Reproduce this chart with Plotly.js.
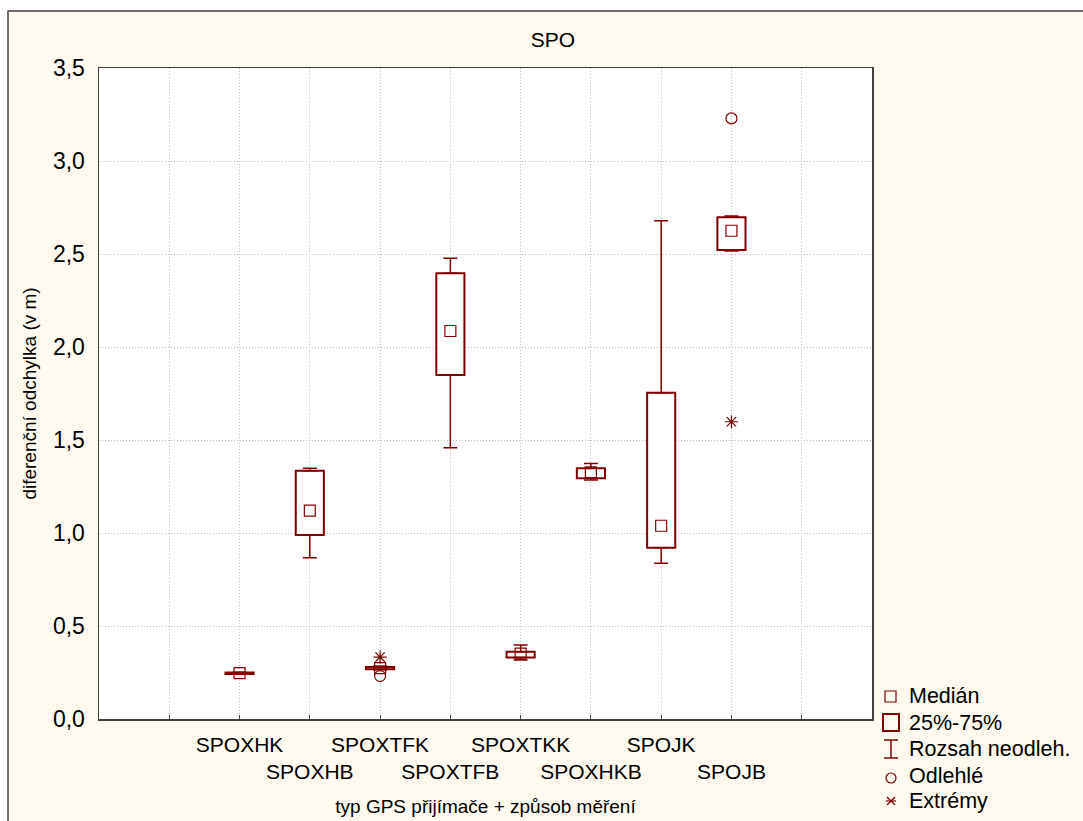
<!DOCTYPE html>
<html>
<head>
<meta charset="utf-8">
<script src="https://cdn.plot.ly/plotly-3.0.1.min.js"></script>
<style>html,body{margin:0;padding:0;background:#fff;}#chart{width:1083px;height:821px;}</style>
</head>
<body>
<div id="chart"></div>
<script>
// ---- data ----
var categories = ['SPOXHK', 'SPOXHB', 'SPOXTFK', 'SPOXTFB', 'SPOXTKK', 'SPOXHKB', 'SPOJK', 'SPOJB'];
var whiskerLow  = [0.240, 0.867, 0.265, 1.459, 0.317, 1.285, 0.837, 2.516];
var q1          = [0.242, 0.989, 0.267, 1.849, 0.330, 1.294, 0.921, 2.521];
var median      = [0.247, 1.120, 0.273, 2.086, 0.352, 1.326, 1.039, 2.625];
var q3          = [0.250, 1.335, 0.280, 2.396, 0.362, 1.348, 1.754, 2.697];
var whiskerHigh = [0.252, 1.348, 0.285, 2.477, 0.398, 1.374, 2.679, 2.704];
var outlierCat = ['SPOXTFK', 'SPOJB'];
var outlierVal = [0.231, 3.229];
var extremeCat = ['SPOXTFK', 'SPOJB'];
var extremeVal = [0.333, 1.598];
var legendLabels = ['Medián', '25%-75%', 'Rozsah neodleh.', 'Odlehlé', 'Extrémy'];
var yTickVals = [0, 0.5, 1, 1.5, 2, 2.5, 3, 3.5];

// ---- derived ----
var RED = '#800000';
var FONT = 'Liberation Sans, Arial, sans-serif';
var xi = categories.map(function (c, i) { return i; });
function idx(c) { return categories.indexOf(c); }
var boxH = q3.map(function (v, i) { return v - q1[i]; });
var upLen = whiskerHigh.map(function (v, i) { return v - q3[i]; });
var lowLen = q1.map(function (v, i) { return v - whiskerLow[i]; });
var zeros = categories.map(function () { return 0; });
var tickText = categories.map(function (c, i) { return i % 2 === 0 ? c : '\u00a0<br>' + c; });

var traces = [
  { type: 'bar', x: xi, base: q1, y: boxH, width: 0.4,
    marker: { color: '#ffffff', line: { color: RED, width: 2 } }, showlegend: false, hoverinfo: 'skip' },
  { type: 'scatter', mode: 'markers', x: xi, y: q3, marker: { size: 1, opacity: 0 },
    error_y: { type: 'data', symmetric: false, array: upLen, arrayminus: zeros, width: 7, thickness: 1.5, color: RED },
    showlegend: false, hoverinfo: 'skip' },
  { type: 'scatter', mode: 'markers', x: xi, y: q1, marker: { size: 1, opacity: 0 },
    error_y: { type: 'data', symmetric: false, array: zeros, arrayminus: lowLen, width: 7, thickness: 1.5, color: RED },
    showlegend: false, hoverinfo: 'skip' },
  { type: 'scatter', mode: 'markers', x: xi, y: median,
    marker: { symbol: 'square-open', size: 11, color: RED, line: { width: 1.2, color: RED } }, showlegend: false },
  { type: 'scatter', mode: 'markers', x: outlierCat.map(idx), y: outlierVal,
    marker: { symbol: 'circle-open', size: 11, color: RED, line: { width: 1.2, color: RED } }, showlegend: false },
  { type: 'scatter', mode: 'markers', x: extremeCat.map(idx), y: extremeVal,
    marker: { symbol: 'asterisk-open', size: 11, color: RED, line: { width: 1.2, color: RED } }, showlegend: false }
];

// pixel -> paper helpers for legend and frame
var L = 99, R = 872, T = 68, B = 719;
function px(x) { return (x - L) / (R - L); }
function py(y) { return (B - y) / (B - T); }

var shapes = [
  { type: 'rect', xref: 'paper', yref: 'paper', x0: px(-5), x1: px(1100), y0: py(11), y1: py(-5), fillcolor: '#ffffff', line: { width: 0 }, layer: 'below' },
  { type: 'rect', xref: 'paper', yref: 'paper', x0: px(-5), x1: px(8), y0: py(830), y1: py(-5), fillcolor: '#ffffff', line: { width: 0 }, layer: 'below' },
  { type: 'rect', xref: 'paper', yref: 'paper', x0: px(8), x1: px(1100), y0: py(11), y1: py(840), line: { color: '#404040', width: 1.5 } },
  { type: 'rect', xref: 'paper', yref: 'paper', x0: px(885), x1: px(896), y0: py(691), y1: py(702), line: { color: RED, width: 1.2 } },
  { type: 'rect', xref: 'paper', yref: 'paper', x0: px(883), x1: px(899), y0: py(714), y1: py(731), line: { color: RED, width: 2 } },
  { type: 'line', xref: 'paper', yref: 'paper', x0: px(891), x1: px(891), y0: py(740), y1: py(758), line: { color: RED, width: 1.5 } },
  { type: 'line', xref: 'paper', yref: 'paper', x0: px(884), x1: px(898), y0: py(740), y1: py(740), line: { color: RED, width: 1.5 } },
  { type: 'line', xref: 'paper', yref: 'paper', x0: px(884), x1: px(898), y0: py(758), y1: py(758), line: { color: RED, width: 1.5 } },
  { type: 'circle', xref: 'paper', yref: 'paper', x0: px(886), x1: px(896), y0: py(773), y1: py(783), line: { color: RED, width: 1.2 } },
  { type: 'line', xref: 'paper', yref: 'paper', x0: px(886), x1: px(896), y0: py(801), y1: py(801), line: { color: RED, width: 1.2 } },
  { type: 'line', xref: 'paper', yref: 'paper', x0: px(887), x1: px(895), y0: py(797), y1: py(805), line: { color: RED, width: 1.2 } },
  { type: 'line', xref: 'paper', yref: 'paper', x0: px(887), x1: px(895), y0: py(805), y1: py(797), line: { color: RED, width: 1.2 } }
];

var legendY = [695.5, 723, 749, 776, 801];
var annotations = legendLabels.map(function (t, i) {
  return { text: t, xref: 'paper', yref: 'paper', x: px(907), y: py(legendY[i]), xanchor: 'left', yanchor: 'middle',
    showarrow: false, font: { family: FONT, size: 21.5, color: '#000' } };
});

var layout = {
  width: 1083, height: 821,
  margin: { l: L, r: 1083 - R, t: T, b: 821 - B, pad: 0 },
  paper_bgcolor: '#fffaef', plot_bgcolor: '#ffffff',
  separators: ', ',
  font: { family: FONT, color: '#000' },
  showlegend: false,
  title: { text: 'SPO', font: { family: FONT, size: 21, color: '#000' },
    x: 553 / 1083, xref: 'container', xanchor: 'center', y: 1 - 40 / 821, yref: 'container', yanchor: 'middle' },
  xaxis: {
    range: [-2, 9], autorange: false,
    tickmode: 'array', tickvals: [-1].concat(xi, [8]), ticktext: [''].concat(tickText, ['']),
    tickangle: 0,
    tickfont: { family: FONT, size: 21, color: '#000' },
    ticks: 'inside', ticklen: 4, tickcolor: '#404040', tickwidth: 1,
    ticklabelstandoff: 6,
    showgrid: true, gridcolor: '#bdbdbd', griddash: '1px,2px', gridwidth: 1,
    showline: true, mirror: true, linecolor: '#404040', linewidth: 1.5, zeroline: false,
    title: { text: 'typ GPS přijímače + způsob měření', font: { family: FONT, size: 19, color: '#000' }, standoff: 17 },
    automargin: false, fixedrange: true
  },
  yaxis: {
    range: [0, 3.5], autorange: false,
    tickmode: 'array', tickvals: yTickVals, tickformat: '.1f',
    tickfont: { family: FONT, size: 23, color: '#000' },
    ticks: '', ticklabelstandoff: 8,
    showgrid: true, gridcolor: '#bdbdbd', griddash: '1px,2px', gridwidth: 1,
    showline: true, mirror: true, linecolor: '#404040', linewidth: 1.5, zeroline: false,
    title: { text: 'diferenční odchylka (v m)', font: { family: FONT, size: 19, color: '#000' }, standoff: 11 },
    automargin: false, fixedrange: true
  },
  shapes: shapes,
  annotations: annotations,
  bargap: 0
};

Plotly.newPlot('chart', traces, layout, { staticPlot: true, displayModeBar: false });
</script>
</body>
</html>
